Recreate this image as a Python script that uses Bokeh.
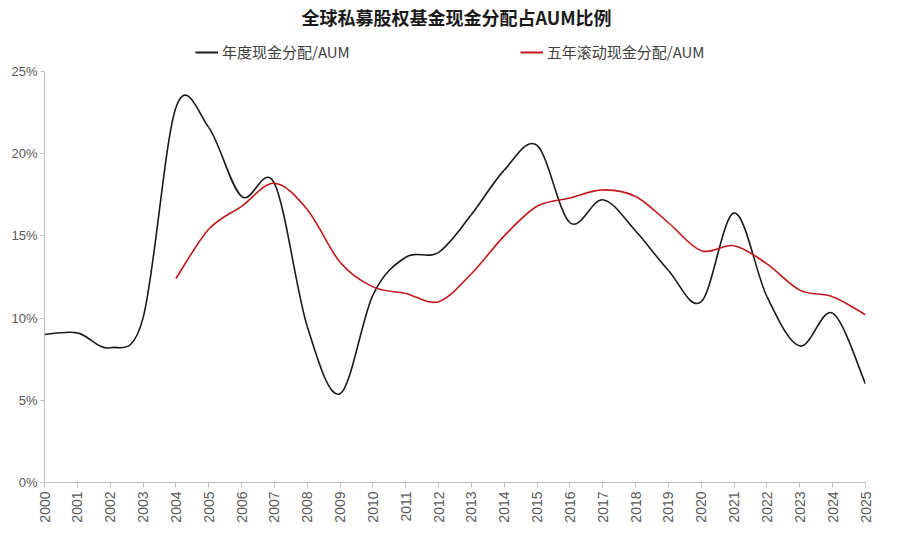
import math
from bokeh.plotting import figure
from bokeh.layouts import column
from bokeh.models import Range1d, FixedTicker, PrintfTickFormatter, Legend, LegendItem, ColumnDataSource, Label
from bokeh.embed import file_html
from bokeh.resources import INLINE

# ---- data (percent) ----
years = list(range(2000, 2026))
annual = [9.0, 9.1, 8.2, 10.0, 22.8, 21.6, 17.4, 18.2, 9.5, 5.4, 11.4, 13.7, 14.0,
          16.3, 19.0, 20.5, 15.8, 17.2, 15.3, 12.9, 11.0, 16.4, 11.3, 8.3, 10.3, 6.0]
rolling_years = list(range(2004, 2026))
rolling = [12.4, 15.4, 16.8, 18.2, 16.6, 13.4, 11.9, 11.5, 11.0, 12.7, 15.0, 16.8,
           17.3, 17.8, 17.4, 15.8, 14.1, 14.4, 13.3, 11.7, 11.3, 10.2]
y_ticks = [0, 5, 10, 15, 20, 25]
title_text = "全球私募股权基金现金分配占AUM比例"
label_annual = "年度现金分配/AUM"
label_rolling = "五年滚动现金分配/AUM"

BLACK = "#1a1a1a"
RED = "#C0161C"


def smooth_segments(xs, ys):
    """Bezier segments through the data points (spreadsheet-style smoothed line)."""
    d = dict(x0=[], y0=[], x1=[], y1=[], cx0=[], cy0=[], cx1=[], cy1=[])
    n = len(xs)
    for i in range(n - 1):
        a = max(i - 1, 0)
        b = min(i + 2, n - 1)
        d["x0"].append(xs[i]); d["y0"].append(ys[i])
        d["x1"].append(xs[i + 1]); d["y1"].append(ys[i + 1])
        d["cx0"].append(xs[i] + (xs[i + 1] - xs[a]) / 6.0)
        d["cy0"].append(ys[i] + (ys[i + 1] - ys[a]) / 6.0)
        d["cx1"].append(xs[i + 1] - (xs[b] - xs[i]) / 6.0)
        d["cy1"].append(ys[i + 1] - (ys[b] - ys[i]) / 6.0)
    return ColumnDataSource(d)


CJK = "Noto Sans CJK SC"
LAT = "Liberation Sans"

W = 892
HEAD_H = 63
ML, MR, MT, MB = 44, 27, 8, 48
MAIN_H = 530 - HEAD_H

# ---- header: title + legend ----
head = figure(width=W, height=HEAD_H, output_backend="svg", toolbar_location=None,
              x_range=Range1d(0, 1), y_range=Range1d(0, 1),
              x_axis_type=None, y_axis_type=None,
              min_border_left=ML, min_border_right=MR, min_border_top=0, min_border_bottom=0)
head.outline_line_color = None
head.xgrid.visible = False
head.ygrid.visible = False

head.add_layout(Label(x=412, y=HEAD_H - 16, x_units="screen", y_units="screen",
                      text=title_text, text_align="center", text_baseline="middle",
                      text_font=CJK, text_font_size="18px", text_font_style="bold",
                      text_color=BLACK))

nan = float("nan")
k1 = head.line(x=[nan], y=[nan], line_color=BLACK, line_width=2)
k2 = head.line(x=[nan], y=[nan], line_color=RED, line_width=2)
legend = Legend(items=[LegendItem(label=label_annual, renderers=[k1]),
                       LegendItem(label=label_rolling, renderers=[k2])],
                orientation="horizontal", location=(151, 1), spacing=170,
                glyph_width=23, glyph_height=14, label_standoff=4,
                label_text_font=CJK, label_text_font_size="15px", label_text_color="#404040",
                border_line_color=None, background_fill_alpha=0, padding=0, margin=0)
head.add_layout(legend)

# ---- main chart ----
p = figure(width=W, height=MAIN_H, output_backend="svg", toolbar_location=None,
           x_range=Range1d(2000, 2025), y_range=Range1d(0, 25),
           min_border_left=ML, min_border_right=MR, min_border_bottom=MB, min_border_top=MT)
p.outline_line_color = None
p.xgrid.visible = False
p.ygrid.visible = False

p.bezier(x0="x0", y0="y0", x1="x1", y1="y1", cx0="cx0", cy0="cy0", cx1="cx1", cy1="cy1",
         source=smooth_segments(years, annual), line_color=BLACK, line_width=1.6)
p.bezier(x0="x0", y0="y0", x1="x1", y1="y1", cx0="cx0", cy0="cy0", cx1="cx1", cy1="cy1",
         source=smooth_segments(rolling_years, rolling), line_color=RED, line_width=1.6)

xa = p.xaxis[0]
xa.ticker = FixedTicker(ticks=years)
xa.major_label_orientation = math.pi / 2
xa.axis_line_color = "#BFBFBF"
xa.major_tick_line_color = "#BFBFBF"
xa.major_tick_out = 5
xa.major_tick_in = 0
xa.minor_tick_line_color = None
xa.major_label_text_font = LAT
xa.major_label_text_font_size = "14px"
xa.major_label_text_color = "#595959"
xa.major_label_standoff = 4

ya = p.yaxis[0]
ya.ticker = FixedTicker(ticks=y_ticks)
ya.formatter = PrintfTickFormatter(format="%d%%")
ya.axis_line_color = "#BFBFBF"
ya.major_tick_line_color = "#BFBFBF"
ya.major_tick_out = 4
ya.major_tick_in = 0
ya.minor_tick_line_color = None
ya.major_label_text_font = LAT
ya.major_label_text_font_size = "13px"
ya.major_label_text_color = "#595959"
ya.major_label_standoff = 3

layout = column(head, p, spacing=0)
open("out.html", "w").write(file_html(layout, INLINE))
